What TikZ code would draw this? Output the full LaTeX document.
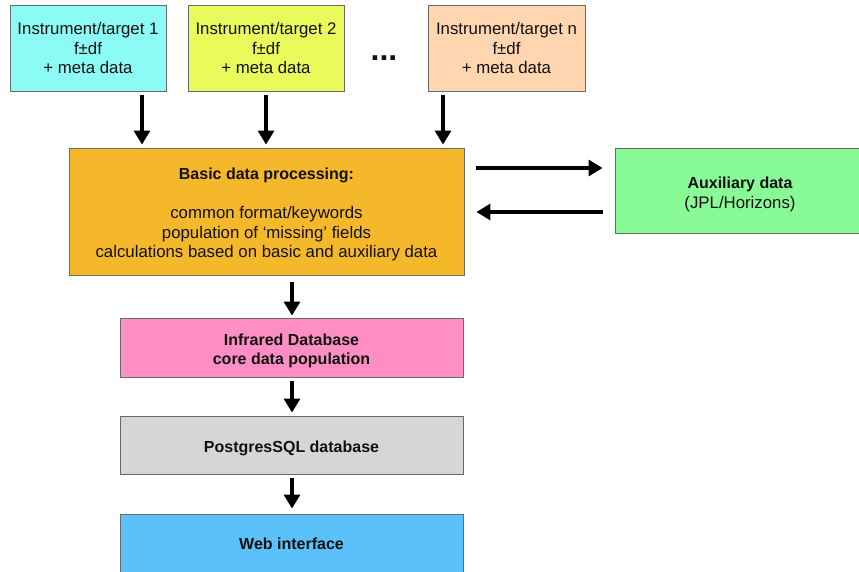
\documentclass[tikz,border=0pt]{standalone}
\usepackage{fontspec}
\setmainfont{Liberation Sans}
\usetikzlibrary{arrows.meta}
\definecolor{cInstA}{HTML}{8CFBF5}
\definecolor{cInstB}{HTML}{E8FB5A}
\definecolor{cInstN}{HTML}{FFD6B0}
\definecolor{cBasic}{HTML}{F6B82B}
\definecolor{cAux}{HTML}{88FB96}
\definecolor{cIR}{HTML}{FF8EC5}
\definecolor{cPG}{HTML}{D6D6D6}
\definecolor{cWeb}{HTML}{5CC0FB}
\definecolor{cEdge}{HTML}{6A6A6A}
\definecolor{cInk}{HTML}{111111}
\newcommand{\topfix}[1]{\rule{0pt}{#1}}
\newcommand{\bft}[1]{{\fontsize{16}{19.5}\selectfont\bfseries #1}}
\tikzset{
  box/.style={draw=cEdge, line width=0.9pt, inner sep=0pt, align=center,
    text=cInk, font=\fontsize{16.8}{19.5}\selectfont},
  arr/.style={line width=3.3pt, draw=black,
    -{Triangle[width=16pt,length=14pt]}, shorten <=4pt, shorten >=3pt},
}
\begin{document}
\begin{tikzpicture}[x=1pt,y=-1pt]
\useasboundingbox (0,0) rectangle (859,572);
\clip (0,0) rectangle (859,572);
\node[box, fill=cInstA, minimum width=156pt, minimum height=86pt] (b1) at (88,48)
  {Instrument/target 1\\f±df\\+ meta data};
\node[box, fill=cInstB, minimum width=156pt, minimum height=86pt] (b2) at (266,48)
  {Instrument/target 2\\f±df\\+ meta data};
\node[font=\fontsize{32}{32}\selectfont\bfseries, text=cInk, inner sep=0pt, anchor=base] (dots) at (384,60.5) {...};
\node[box, fill=cInstN, minimum width=157pt, minimum height=86pt] (bn) at (506.5,48)
  {Instrument/target n\\f±df\\+ meta data};
\node[box, fill=cBasic, minimum width=395pt, minimum height=127pt] (basic) at (266.5,211.5)
  {\topfix{18pt}\bft{Basic data processing:}\\[19.5pt]common format/keywords\\population of ‘missing’ fields\\calculations based on basic and auxiliary data};
\node[box, fill=cAux, minimum width=250pt, minimum height=85pt] (aux) at (740,190.5)
  {\topfix{19pt}\bft{Auxiliary data}\\(JPL/Horizons)};
\node[box, fill=cIR, minimum width=343pt, minimum height=59pt] (ir) at (291.5,347.5)
  {\topfix{18pt}\bft{Infrared Database}\\\bft{core data population}};
\node[box, fill=cPG, minimum width=343pt, minimum height=58pt] (pg) at (291.5,445)
  {\topfix{18pt}\bft{PostgresSQL database}};
\node[box, fill=cWeb, minimum width=343pt, minimum height=59pt] (web) at (291.5,543.5)
  {\bft{Web interface}};
\draw[arr] (142,0 |- b1.south) -- (142,0 |- basic.north);
\draw[arr] (266,0 |- b2.south) -- (266,0 |- basic.north);
\draw[arr] (443,0 |- bn.south) -- (443,0 |- basic.north);
\draw[arr, shorten <=12pt, shorten >=12pt] (basic.east |- 0,168) -- (aux.west |- 0,168);
\draw[arr, shorten <=12pt, shorten >=12pt] (aux.west |- 0,212) -- (basic.east |- 0,212);
\draw[arr, shorten <=7pt, shorten >=2pt] (292,0 |- basic.south) -- (292,0 |- ir.north);
\draw[arr] (292,0 |- ir.south) -- (292,0 |- pg.north);
\draw[arr, shorten >=5pt] (292,0 |- pg.south) -- (292,0 |- web.north);
\end{tikzpicture}
\end{document}
